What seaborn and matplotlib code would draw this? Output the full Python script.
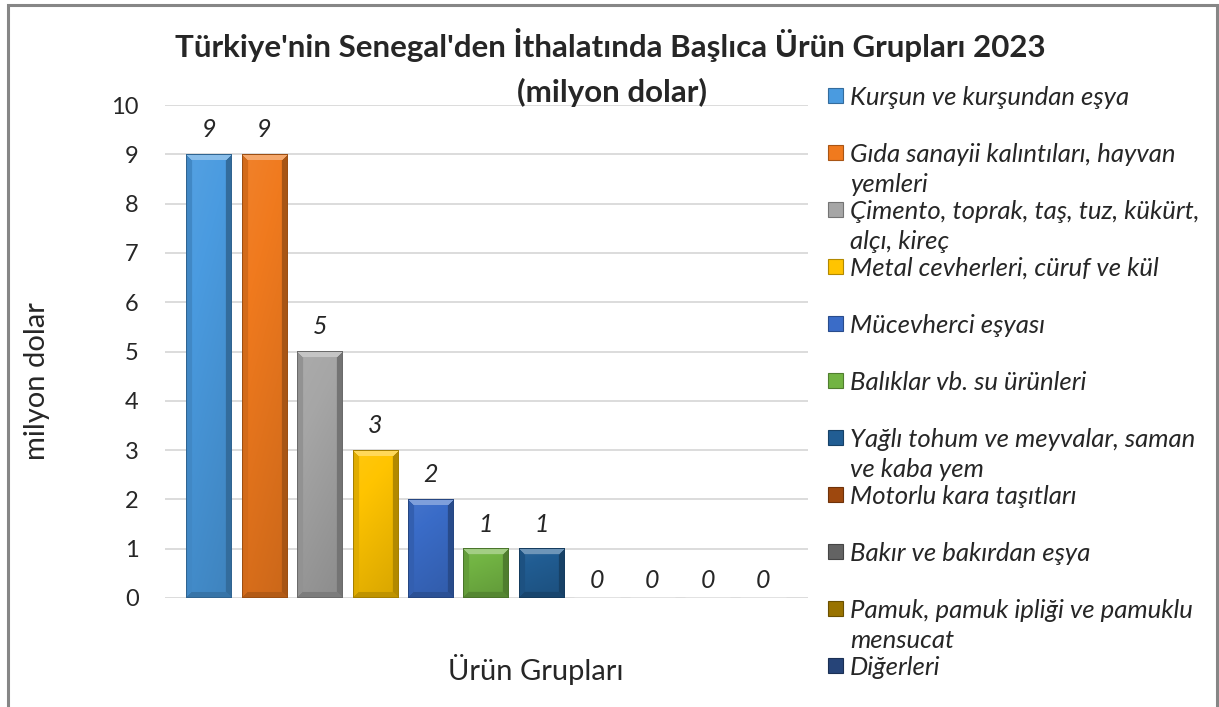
import numpy as np
import pandas as pd
import matplotlib
matplotlib.use("Agg")
import matplotlib.pyplot as plt
import matplotlib.colors as mcolors
from matplotlib.patches import Rectangle
import seaborn as sns

# veriler
urun_gruplari = ["Kurşun ve kurşundan eşya",
                 "Gıda sanayii kalıntıları, hayvan yemleri",
                 "Çimento, toprak, taş, tuz, kükürt, alçı, kireç",
                 "Metal cevherleri, cüruf ve kül",
                 "Mücevherci eşyası",
                 "Balıklar vb. su ürünleri",
                 "Yağlı tohum ve meyvalar, saman ve kaba yem",
                 "Motorlu kara taşıtları",
                 "Bakır ve bakırdan eşya",
                 "Pamuk, pamuk ipliği ve pamuklu mensucat",
                 "Diğerleri"]
degerler = [9, 9, 5, 3, 2, 1, 1, 0, 0, 0, 0]
lejant_etiketleri = ["Kurşun ve kurşundan eşya",
                     "Gıda sanayii kalıntıları, hayvan\nyemleri",
                     "Çimento, toprak, taş, tuz, kükürt,\nalçı, kireç",
                     "Metal cevherleri, cüruf ve kül",
                     "Mücevherci eşyası",
                     "Balıklar vb. su ürünleri",
                     "Yağlı tohum ve meyvalar, saman\nve kaba yem",
                     "Motorlu kara taşıtları",
                     "Bakır ve bakırdan eşya",
                     "Pamuk, pamuk ipliği ve pamuklu\nmensucat",
                     "Diğerleri"]
renkler = ["#4a9be0", "#f07a1e", "#a6a6a6", "#ffc400", "#3a6cc8", "#72b443",
           "#215d93", "#9e480e", "#636363", "#997300", "#264478"]

W, H = 1219, 707

sns.set_style("white")
plt.rcParams["font.family"] = ["Lato", "DejaVu Sans"]

fig = plt.figure(figsize=(W / 100, H / 100), dpi=100)
ax = fig.add_axes([165 / W, 109 / H, 643 / W, 493 / H])

df = pd.DataFrame({"Urun": urun_gruplari, "Deger": degerler})
sns.barplot(data=df, x="Urun", y="Deger", hue="Urun", palette=renkler,
            legend=False, width=0.82, saturation=1, ax=ax)

ax.set_xlim(-0.794, 10.81)
ax.set_ylim(0, 10)
ax.set_yticks(range(11))
ax.yaxis.grid(True, color="#d9d9d9", lw=1.3)
ax.set_axisbelow(True)
sns.despine(ax=ax, left=True, bottom=True)
ax.set_xticks([])
ax.tick_params(axis="y", length=0, pad=19, labelsize=17)


def karistir(c, s):
    c = np.array(c)
    if s >= 0:
        return c + (1 - c) * s
    return c * (1 + s)


# bevel / gradient efekti
for patch in list(ax.patches):
    h = patch.get_height()
    if h <= 0:
        continue
    x0, w = patch.get_x(), patch.get_width()
    renk = np.array(mcolors.to_rgb(patch.get_facecolor()))
    p0 = ax.transData.transform((x0, 0))
    p1 = ax.transData.transform((x0 + w, h))
    nx = max(int(round(p1[0] - p0[0])), 2)
    ny = max(int(round(p1[1] - p0[1])), 2)
    yy, xx = np.mgrid[0:ny, 0:nx]
    s = 0.06 - 0.16 * yy / ny - 0.06 * xx / nx
    uzak = np.stack([yy, ny - 1 - yy, xx, nx - 1 - xx])
    m = uzak.min(axis=0)
    taraf = uzak.argmin(axis=0)
    b = 6
    kenar = np.array([0.35, -0.25, -0.12, -0.3])
    s = np.where(m < b, kenar[taraf], s)
    s = np.where(m == 0, -0.35, s)
    img = np.zeros((ny, nx, 3))
    for k in range(3):
        c = renk[k]
        img[..., k] = np.where(s >= 0, c + (1 - c) * s, c * (1 + s))
    ax.imshow(np.clip(img, 0, 1), extent=(x0, x0 + w, 0, h), aspect="auto",
              interpolation="bilinear", zorder=patch.get_zorder() + 0.1)
    patch.set_visible(False)

ax.set_xlim(-0.794, 10.81)
ax.set_ylim(0, 10)

for cont, v in zip(ax.containers, degerler):
    ax.bar_label(cont, padding=9.5 if v > 0 else 4.5, fontsize=18, fontstyle="italic")

ax.set_ylabel("milyon dolar", fontsize=21)
ax.yaxis.set_label_coords(-0.179, 0.44)
ax.set_xlabel("Ürün Grupları", fontsize=21)
ax.xaxis.set_label_coords(0.577, -0.1136)

# başlık
fig.text(0.501, 1 - 45 / H, "Türkiye'nin Senegal'den İthalatında Başlıca Ürün Grupları 2023",
         ha="center", va="center", fontsize=22.5, fontweight="bold")
fig.text(0.502, 1 - 92 / H, "(milyon dolar)",
         ha="center", va="center", fontsize=22.5, fontweight="bold")

# lejant
for i, (etiket, renk) in enumerate(zip(lejant_etiketleri, renkler)):
    yc = 95.5 + 57 * i
    fig.patches.append(Rectangle((828 / W, 1 - (yc + 7.5) / H), 15 / W, 15 / H,
                                 transform=fig.transFigure, facecolor=renk,
                                 edgecolor=mcolors.to_hex(karistir(mcolors.to_rgb(renk), -0.3)),
                                 lw=0.8))
    fig.text(850 / W, 1 - (yc - 9.5) / H, etiket, ha="left", va="top",
             fontsize=18.5, fontstyle="italic", linespacing=1.38)

# çerçeve
fig.patches.append(Rectangle((8 / W, -0.05), (1217 - 8) / W, 1.05 - 5 / H,
                             transform=fig.transFigure, fill=False,
                             edgecolor="#868686", lw=2.2))

plt.savefig("out.png", dpi=100)
